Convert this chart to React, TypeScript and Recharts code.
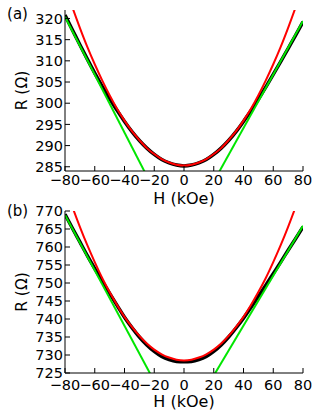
import React from 'react';
import { LineChart, Line, XAxis, YAxis } from 'recharts';

// field grid (kOe) shared by the measured curve and the parabolic fit
const H_GRID = [-80, -75, -70, -65, -60, -55, -50, -45, -40, -35, -30, -25, -20, -15, -10, -5, 0,
  5, 10, 15, 20, 25, 30, 35, 40, 45, 50, 55, 60, 65, 70, 75, 80];
const X_TICKS = [-80, -60, -40, -20, 0, 20, 40, 60, 80];

// panel (a)
const measuredA = [320.8, 317.3, 313.8, 310.4, 307.1, 304.0, 301.1, 298.3, 295.7, 293.3, 291.2, 289.4, 287.9, 286.7, 285.9, 285.4, 285.2,
  285.4, 285.9, 286.7, 287.9, 289.4, 291.2, 293.3, 295.7, 298.2, 300.9, 303.8, 306.8, 309.8, 312.9, 316.0, 319.2];
const parabolaA = [327.7, 322.6, 317.8, 313.3, 309.2, 305.4, 301.9, 298.7, 295.9, 293.4, 291.3, 289.4, 288.0, 286.8, 286.0, 285.5, 285.3,
  285.5, 286.0, 286.8, 288.0, 289.4, 291.3, 293.4, 295.9, 298.7, 301.9, 305.4, 309.2, 313.3, 317.8, 322.6, 327.7];
const linLeftA_H = [-80, -20];
const linLeftA_R = [320.4, 279.4];
const linRightA_H = [20, 80];
const linRightA_R = [281.5, 319.4];
const Y_TICKS_A = [285, 290, 295, 300, 305, 310, 315, 320];

// panel (b)
const measuredB = [769.1, 765.2, 761.4, 757.6, 754.0, 750.5, 747.1, 743.8, 740.5, 737.6, 735.0, 732.8, 731.0, 729.6, 728.7, 728.2, 728.1,
  728.2, 728.7, 729.6, 731.0, 732.8, 735.0, 737.5, 740.2, 743.2, 746.3, 749.4, 752.6, 755.8, 759.1, 762.3, 765.6];
const parabolaB = [777.0, 771.1, 765.6, 760.5, 755.8, 751.4, 747.5, 743.9, 740.6, 737.8, 735.3, 733.2, 731.5, 730.2, 729.3, 728.7, 728.5,
  728.7, 729.3, 730.2, 731.5, 733.2, 735.3, 737.8, 740.6, 743.9, 747.5, 751.4, 755.8, 760.5, 765.6, 771.1, 777.0];
const linLeftB_H = [-80, -20];
const linLeftB_R = [768.9, 722.7];
const linRightB_H = [20, 80];
const linRightB_R = [724.3, 765.9];
const Y_TICKS_B = [725, 730, 735, 740, 745, 750, 755, 760, 765, 770];

const FONT = 'DejaVu Sans';
const GREEN = '#00e600';

const zip = (hs: number[], rs: number[]) => hs.map((H, i) => ({ H, R: rs[i] }));
const fmt = (v: number) => (v < 0 ? `\u2212${Math.abs(v)}` : `${v}`);

interface PanelProps {
  top: number;
  height: number;
  marginTop: number;
  xAxisHeight: number;
  tickMarginX: number;
  xLabelOffset: number;
  domain: [number, number];
  yTicks: number[];
  measured: number[];
  parabola: number[];
  leftH: number[];
  leftR: number[];
  rightH: number[];
  rightR: number[];
}

const Panel: React.FC<PanelProps> = (p) => {
  const tickStyle = { fill: '#000', fontSize: 14.5, fontFamily: FONT };
  const axisLine = { stroke: '#000', strokeWidth: 1 };
  const tickLine = { stroke: '#000', strokeWidth: 1 };
  return (
    <div style={{ position: 'absolute', left: 0, top: p.top }}>
      <LineChart width={312} height={p.height} margin={{ top: p.marginTop, right: 9, bottom: 0, left: 0 }}>
        <XAxis
          xAxisId="b" type="number" dataKey="H" domain={[-80, 80]} ticks={X_TICKS}
          allowDataOverflow tickFormatter={fmt} tick={tickStyle} axisLine={axisLine} tickLine={tickLine}
          tickSize={-5} tickMargin={p.tickMarginX} height={p.xAxisHeight} interval={0}
          label={{ value: 'H (kOe)', position: 'insideBottom', offset: p.xLabelOffset, fill: '#000', fontSize: 16, fontFamily: FONT }}
        />
        <XAxis
          xAxisId="t" orientation="top" type="number" domain={[-80, 80]} ticks={X_TICKS}
          allowDataOverflow tick={false} axisLine={axisLine} tickLine={tickLine} tickSize={-5} height={0}
        />
        <YAxis
          yAxisId="l" type="number" domain={p.domain} ticks={p.yTicks} allowDataOverflow
          tick={tickStyle} axisLine={axisLine} tickLine={tickLine} tickSize={-5} tickMargin={7} width={65} interval={0}
          label={{ value: 'R (\u03A9)', angle: -90, position: 'insideLeft', offset: 21, fill: '#000', fontSize: 15.5, fontFamily: FONT, style: { textAnchor: 'middle' } }}
        />
        <YAxis
          yAxisId="r" orientation="right" type="number" domain={p.domain} ticks={p.yTicks} allowDataOverflow
          tick={false} axisLine={axisLine} tickLine={tickLine} tickSize={-5} width={0}
        />
        <Line xAxisId="b" yAxisId="l" data={zip(H_GRID, p.measured)} dataKey="R" type="monotone" stroke="#000" strokeWidth={3.5} dot={false} activeDot={false} isAnimationActive={false} />
        <Line xAxisId="b" yAxisId="l" data={zip(p.leftH, p.leftR)} dataKey="R" type="linear" stroke={GREEN} strokeWidth={2} dot={false} activeDot={false} isAnimationActive={false} />
        <Line xAxisId="b" yAxisId="l" data={zip(p.rightH, p.rightR)} dataKey="R" type="linear" stroke={GREEN} strokeWidth={2} dot={false} activeDot={false} isAnimationActive={false} />
        <Line xAxisId="b" yAxisId="l" data={zip(H_GRID, p.parabola)} dataKey="R" type="monotone" stroke="#ff0000" strokeWidth={2} dot={false} activeDot={false} isAnimationActive={false} />
      </LineChart>
    </div>
  );
};

export default function App() {
  return (
    <div style={{ position: 'fixed', left: 0, top: 0, width: 312, height: 415, background: '#fff', overflow: 'hidden' }}>
      <Panel
        top={0} height={212} marginTop={10} xAxisHeight={41} tickMarginX={9} xLabelOffset={8}
        domain={[284, 322]} yTicks={Y_TICKS_A} measured={measuredA} parabola={parabolaA}
        leftH={linLeftA_H} leftR={linLeftA_R} rightH={linRightA_H} rightR={linRightA_R}
      />
      <Panel
        top={200} height={215} marginTop={11} xAxisHeight={42} tickMarginX={12} xLabelOffset={8}
        domain={[725, 770]} yTicks={Y_TICKS_B} measured={measuredB} parabola={parabolaB}
        leftH={linLeftB_H} leftR={linLeftB_R} rightH={linRightB_H} rightR={linRightB_R}
      />
      <svg width={312} height={415} style={{ position: 'absolute', left: 0, top: 0, pointerEvents: 'none' }}>
        <text x={17.5} y={19} textAnchor="middle" fontSize={15} fontFamily={FONT} fill="#000">(a)</text>
        <text x={17.5} y={216} textAnchor="middle" fontSize={15} fontFamily={FONT} fill="#000">(b)</text>
      </svg>
    </div>
  );
}
